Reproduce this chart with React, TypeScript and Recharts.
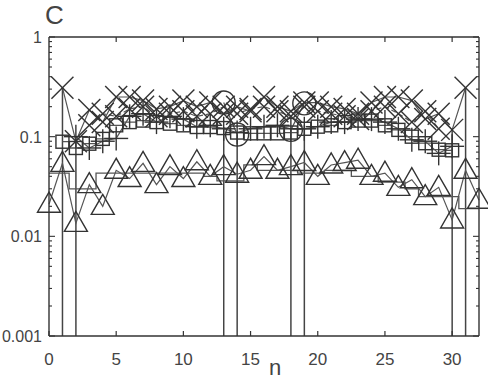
import React from 'react';
import { ComposedChart, Line, Bar, XAxis, YAxis } from 'recharts';

const nValues = [0, 1, 2, 3, 4, 5, 6, 7, 8, 9, 10, 11, 12, 13, 14, 15, 16, 17, 18, 19, 20, 21, 22, 23, 24, 25, 26, 27, 28, 29, 30, 31, 32];

const crossA = [null, 0.31, 0.09, 0.185, 0.14, 0.25, 0.25, 0.23, 0.19, 0.2, 0.23, 0.2, 0.22, 0.17, 0.2, 0.18, 0.25, 0.2, 0.18, 0.22, 0.22, 0.2, 0.19, 0.17, 0.22, 0.25, 0.25, 0.23, 0.15, 0.17, 0.117, 0.31, null];
const crossB = [null, null, null, 0.13, 0.17, 0.16, 0.19, 0.2, 0.16, 0.17, 0.18, 0.16, 0.17, 0.2, 0.17, 0.19, 0.2, 0.18, 0.16, 0.2, 0.18, 0.17, 0.16, 0.15, 0.18, 0.2, 0.17, 0.14, 0.18, 0.12, null, null, null];
const plusVals = [null, null, 0.1, 0.077, 0.09, 0.096, 0.16, 0.17, 0.14, 0.16, 0.15, 0.126, 0.13, 0.12, 0.11, 0.12, 0.126, 0.13, 0.12, 0.12, 0.126, 0.14, 0.14, 0.15, 0.15, 0.14, 0.12, 0.093, 0.09, 0.068, 0.08, null, null];
const squareVals = [null, 0.089, 0.077, 0.085, 0.095, 0.13, 0.14, 0.145, 0.14, 0.135, 0.13, 0.125, 0.125, 0.122, 0.11, 0.108, 0.108, 0.108, 0.11, 0.12, 0.126, 0.13, 0.14, 0.145, 0.145, 0.13, 0.117, 0.1, 0.086, 0.074, 0.073, null, null];
const circleVals = [null, null, null, null, null, null, null, null, null, null, null, null, null, 0.22, 0.105, null, null, null, 0.117, 0.216, null, null, null, null, null, null, null, null, null, null, null, null, null];
const triangleVals = [0.021, 0.054, 0.0135, 0.033, 0.02, 0.046, 0.038, 0.054, 0.033, 0.05, 0.038, 0.056, 0.04, 0.05, 0.042, 0.046, 0.063, 0.046, 0.05, 0.055, 0.04, 0.052, 0.055, 0.058, 0.04, 0.043, 0.031, 0.037, 0.025, 0.031, 0.0146, 0.046, 0.023];
const lowerStep = [0.043, 0.043, 0.03, 0.03, 0.043, 0.043, 0.043, 0.043, 0.043, 0.043, 0.043, 0.043, 0.04, 0.036, 0.036, 0.052, 0.046, 0.046, 0.046, 0.043, 0.043, 0.046, 0.046, 0.04, 0.04, 0.035, 0.035, 0.03, 0.025, 0.025, 0.025, 0.019, 0.019];
const impulseVals = [null, 0.31, 0.09, null, null, null, null, null, null, null, null, null, null, 0.125, 0.105, null, null, null, 0.117, 0.13, null, null, null, null, null, null, null, null, null, null, 0.117, 0.31, null];

const xTicks = [0, 5, 10, 15, 20, 25, 30];
const yMajor = [0.001, 0.01, 0.1, 1];
const yMajorLabels = ['0.001', '0.01', '0.1', '1'];
const yMinorSteps = [2, 3, 4, 5, 6, 7, 8, 9];

const data = nValues.map((n, i) => ({
  n,
  crossA: crossA[i],
  crossB: crossB[i],
  plus: plusVals[i],
  square: squareVals[i],
  circle: circleVals[i],
  triangle: triangleVals[i],
  lower: lowerStep[i],
  impulse: impulseVals[i],
}));

const yTicks = [
  ...yMajor,
  ...yMajor.slice(0, 3).flatMap((d) => yMinorSteps.map((m) => +(d * m).toPrecision(3))),
].sort((a, b) => a - b);

const INK = '#333';
const LINE = '#555';
const FONT = '"Liberation Sans", Arial, Helvetica, sans-serif';

const ok = (cx: any, cy: any) => typeof cx === 'number' && typeof cy === 'number' && !isNaN(cx) && !isNaN(cy);

const makeDot = (kind: string) => (props: any) => {
  const { cx, cy, index } = props;
  const k = `${kind}-${index}`;
  if (!ok(cx, cy) || props.value == null) return <g key={k} />;
  const s = { stroke: INK, strokeWidth: 1.4, fill: 'none' };
  if (kind === 'x') {
    const h = 11;
    return (
      <g key={k} {...s}>
        <line x1={cx - h} y1={cy - h} x2={cx + h} y2={cy + h} />
        <line x1={cx - h} y1={cy + h} x2={cx + h} y2={cy - h} />
      </g>
    );
  }
  if (kind === 'plus') {
    const h = 12;
    return (
      <g key={k} {...s}>
        <line x1={cx - h} y1={cy} x2={cx + h} y2={cy} />
        <line x1={cx} y1={cy - h} x2={cx} y2={cy + h} />
      </g>
    );
  }
  if (kind === 'square') {
    const h = 6.5;
    return <rect key={k} x={cx - h} y={cy - h} width={2 * h} height={2 * h} {...s} />;
  }
  if (kind === 'circle') {
    return <circle key={k} cx={cx} cy={cy} r={11.5} {...s} />;
  }
  // triangle
  return <polygon key={k} points={`${cx},${cy - 12} ${cx - 11.5},${cy + 8} ${cx + 11.5},${cy + 8}`} {...s} />;
};

// ticks are drawn inward, so tickSize is 0 and each custom tick draws its own stub
const BottomTick = (props: any) => {
  const { x, y, payload } = props;
  return (
    <g>
      <line x1={x} y1={y} x2={x} y2={y - 5} stroke={INK} strokeWidth={1.2} />
      <text x={x} y={y + 29} textAnchor="middle" fontSize={17} fill="#444" fontFamily={FONT}>
        {payload.value}
      </text>
    </g>
  );
};

const TopTick = (props: any) => {
  const { x, y } = props;
  return <line x1={x} y1={y} x2={x} y2={y + 5} stroke={INK} strokeWidth={1.2} />;
};

const LeftTick = (props: any) => {
  const { x, y, payload } = props;
  const idx = yMajor.indexOf(payload.value);
  const major = idx >= 0;
  return (
    <g>
      <line x1={x} y1={y} x2={x + (major ? 6 : 3)} y2={y} stroke={INK} strokeWidth={1.1} />
      {major && (
        <text x={x - 7} y={y + 6} textAnchor="end" fontSize={16} fill="#444" fontFamily={FONT}>
          {yMajorLabels[idx]}
        </text>
      )}
    </g>
  );
};

const RightTick = (props: any) => {
  const { x, y, payload } = props;
  const major = yMajor.indexOf(payload.value) >= 0;
  return <line x1={x} y1={y} x2={x - (major ? 6 : 3)} y2={y} stroke={INK} strokeWidth={1.1} />;
};

export default function App() {
  return (
    <div style={{ position: 'absolute', left: 0, top: 0, width: 488, height: 382, background: '#fff', overflow: 'hidden' }}>
      <ComposedChart width={488} height={382} data={data} margin={{ top: 36, right: 8, bottom: 45, left: 48 }}>
        <XAxis
          xAxisId="b"
          dataKey="n"
          type="number"
          domain={[0, 32]}
          ticks={xTicks}
          interval={0}
          height={1}
          tickSize={0}
          tickMargin={0}
          tickLine={false}
          axisLine={{ stroke: INK, strokeWidth: 1.4 }}
          tick={<BottomTick />}
        />
        <XAxis
          xAxisId="t"
          orientation="top"
          dataKey="n"
          type="number"
          domain={[0, 32]}
          ticks={xTicks.slice(1)}
          interval={0}
          height={1}
          tickSize={0}
          tickMargin={0}
          tickLine={false}
          axisLine={{ stroke: INK, strokeWidth: 1.4 }}
          tick={<TopTick />}
        />
        <YAxis
          yAxisId="l"
          scale="log"
          domain={[0.001, 1]}
          allowDataOverflow
          ticks={yTicks}
          interval={0}
          width={1}
          tickSize={0}
          tickMargin={0}
          tickLine={false}
          axisLine={{ stroke: INK, strokeWidth: 1.4 }}
          tick={<LeftTick />}
        />
        <YAxis
          yAxisId="r"
          orientation="right"
          scale="log"
          domain={[0.001, 1]}
          allowDataOverflow
          ticks={yTicks}
          interval={0}
          width={1}
          tickSize={0}
          tickMargin={0}
          tickLine={false}
          axisLine={{ stroke: INK, strokeWidth: 1.4 }}
          tick={<RightTick />}
        />
        <Bar xAxisId="b" yAxisId="l" dataKey="impulse" barSize={1.5} fill="#444" isAnimationActive={false} />
        <Line xAxisId="b" yAxisId="l" dataKey="lower" type="step" stroke={LINE} strokeWidth={1.3} dot={false} isAnimationActive={false} />
        <Line xAxisId="b" yAxisId="l" dataKey="triangle" type="linear" stroke={LINE} strokeWidth={1.2} dot={makeDot('triangle')} isAnimationActive={false} />
        <Line xAxisId="b" yAxisId="l" dataKey="square" type="step" stroke={LINE} strokeWidth={1.3} dot={makeDot('square')} isAnimationActive={false} />
        <Line xAxisId="b" yAxisId="l" dataKey="plus" type="linear" stroke={LINE} strokeWidth={1.2} dot={makeDot('plus')} isAnimationActive={false} />
        <Line xAxisId="b" yAxisId="l" dataKey="crossB" type="linear" stroke={LINE} strokeWidth={1.2} strokeDasharray="5 3" dot={makeDot('x')} isAnimationActive={false} />
        <Line xAxisId="b" yAxisId="l" dataKey="crossA" type="linear" stroke={LINE} strokeWidth={1.2} dot={makeDot('x')} isAnimationActive={false} />
        <Line xAxisId="b" yAxisId="l" dataKey="circle" type="linear" stroke={LINE} strokeWidth={1.2} dot={makeDot('circle')} isAnimationActive={false} />
        <text x={45} y={24} fontSize={26} fill="#444" fontFamily={FONT}>C</text>
        <text x={275} y={375} textAnchor="middle" fontSize={22} fill="#444" fontFamily={FONT}>n</text>
      </ComposedChart>
    </div>
  );
}
